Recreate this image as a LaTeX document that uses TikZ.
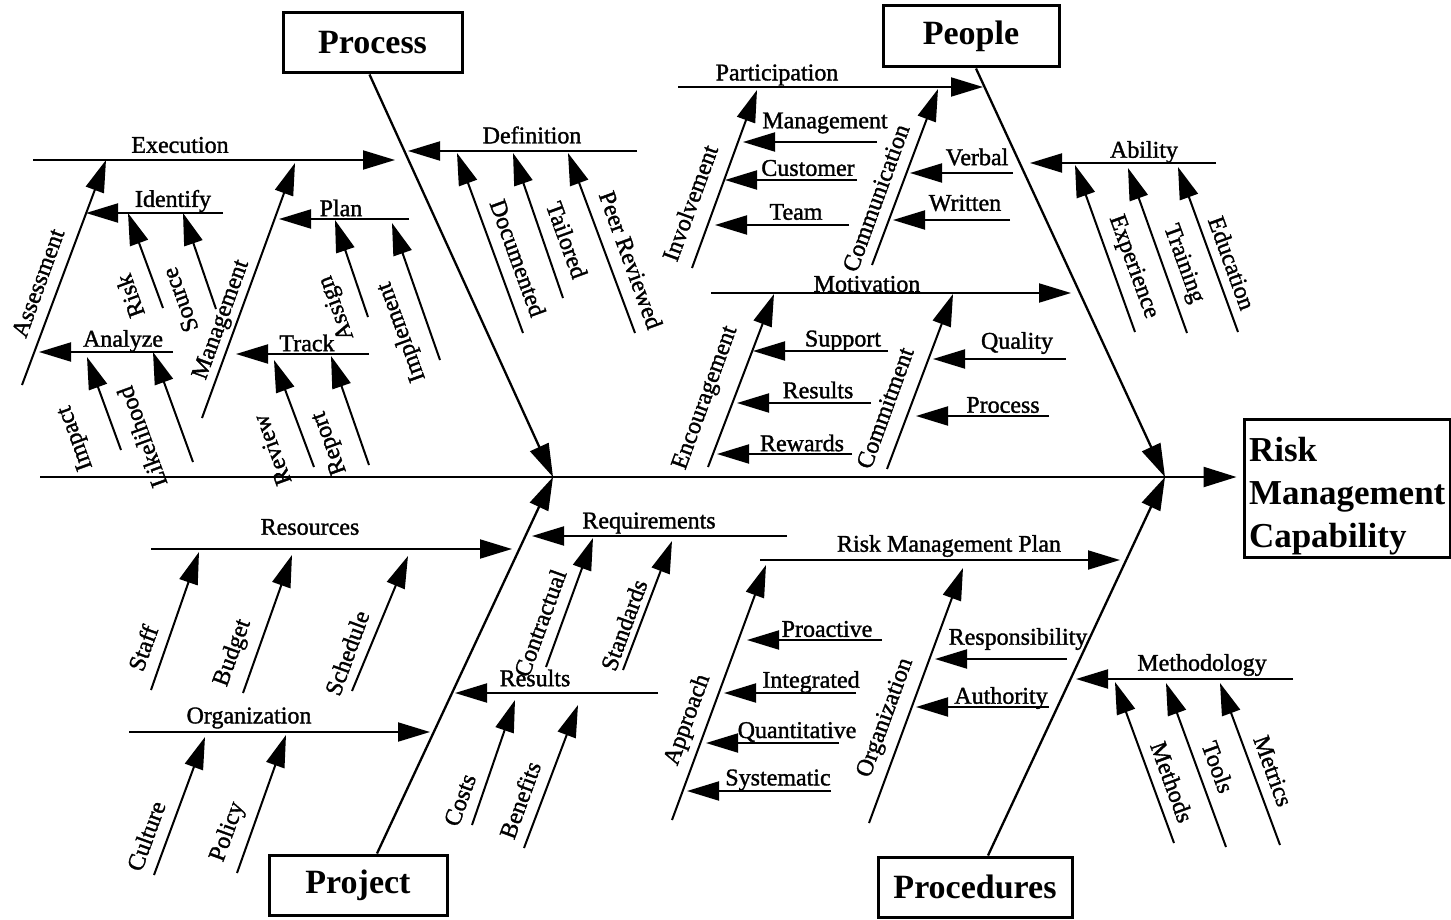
\documentclass[tikz,border=0pt]{standalone}
\usepackage{fontspec}
\setmainfont{Liberation Serif}
\newfontfamily\lblfont{Liberation Serif}[FakeBold=1.4]
\usetikzlibrary{arrows.meta}

% one arrow of the fishbone: name, tail, head
\newcommand\fbarrow[3]{%
  \coordinate (#1-t) at (#2);
  \coordinate (#1-h) at (#3);
  \draw[arr] (#1-t) -- (#1-h);}

\begin{document}
\begin{tikzpicture}[x=1pt,y=-1pt,
  arr/.style={line width=2pt,-{Triangle[length=32pt,width=19pt]}},
  bone/.style={line width=2.3pt,-{Triangle[length=33pt,width=20pt]}},
  lbl/.style={font=\lblfont\fontsize{24}{26}\selectfont,inner sep=0pt},
  title/.style={draw,line width=3pt,font=\bfseries\fontsize{34}{42}\selectfont,inner sep=0pt}]
\useasboundingbox (0,0) rectangle (1451,920);

% ---- effect and category boxes ----
\node[title,minimum width=179pt,minimum height=60pt] (process) at (372.5,43) {Process};
\node[title,minimum width=176pt,minimum height=61pt] (people) at (971,36.5) {People};
\node[title,minimum width=178pt,minimum height=60pt] (project) at (358,885) {Project};
\node[title,minimum width=194pt,minimum height=60pt] (procedures) at (975,887) {Procedures};
\node[title,minimum width=206pt,minimum height=138pt] (rmc) at (1347,488) {};
\node[text width=196pt,align=left,inner sep=0pt,
      font=\bfseries\fontsize{35}{43}\selectfont] (rmctext) at (1347,496) {Risk\\Management\\Capability};

% ---- spine and main bones ----
\coordinate (spineL) at (40,477);
\coordinate (procTip) at (553,477);
\coordinate (peopTip) at (1165,477);
\draw[bone] (spineL) -- ([xshift=-6pt]spineL -| rmc.west);
\draw[bone] ([xshift=-3pt]process.south) -- (procTip);
\draw[bone] ([xshift=5pt]people.south) -- (peopTip);
\draw[bone] ([xshift=19pt]project.north) -- (procTip);
\draw[bone] ([xshift=13pt]procedures.north) -- (peopTip);

% ---- Process ----
\fbarrow{exec}{33,160}{395,160}
\node[lbl] (exec-l) at (180,145) {Execution};
\fbarrow{defn}{637,151}{408,151}
\node[lbl] (defn-l) at (532,135) {Definition};
\fbarrow{ident}{223,213}{86,213}
\node[lbl] (ident-l) at (173,201) {Identify};
\fbarrow{anlz}{173,352}{39,352}
\node[lbl] (anlz-l) at (123,341) {Analyze};
\fbarrow{plan}{409,219}{279,219}
\node[lbl] (plan-l) at (341,208) {Plan};
\fbarrow{track}{369,354}{236,354}
\node[lbl] (track-l) at (307,343) {Track};

\fbarrow{assess}{22,385}{106,160}
\node[lbl,rotate=70] (assess-l) at (38,283) {Assessment};
\fbarrow{mgmt}{202,418}{295,163}
\node[lbl,rotate=70] (mgmt-l) at (222,320) {Management};
\fbarrow{risk}{163,308}{128,213}
\node[lbl,rotate=110] (risk-l) at (130,296) {Risk};
\fbarrow{source}{216,309}{183,213}
\node[lbl,rotate=110] (source-l) at (180,300) {Source};
\fbarrow{impact}{121,450}{87,357}
\node[lbl,rotate=110] (impact-l) at (76,438) {Impact};
\fbarrow{likeli}{193,462}{153,352}
\node[lbl,rotate=110] (likeli-l) at (142,437) {Likelihood};
\fbarrow{assign}{368,317}{335,220}
\node[lbl,rotate=110] (assign-l) at (337,308) {Assign};
\fbarrow{implem}{440,360}{392,223}
\node[lbl,rotate=110] (implem-l) at (402,332) {Implement};
\fbarrow{review}{314,467}{274,360}
\node[lbl,rotate=110] (review-l) at (272,450) {Review};
\fbarrow{report}{369,465}{331,356}
\node[lbl,rotate=110] (report-l) at (330,443) {Report};
\fbarrow{docum}{523,333}{457,153}
\node[lbl,rotate=-70] (docum-l) at (518,258) {Documented};
\fbarrow{tailor}{563,298}{513,153}
\node[lbl,rotate=-70] (tailor-l) at (567,240) {Tailored};
\fbarrow{peer}{635,333}{568,153}
\node[lbl,rotate=-70] (peer-l) at (631,260) {Peer Reviewed};

% ---- People ----
\fbarrow{partic}{678,87}{983,87}
\node[lbl] (partic-l) at (777,75) {Participation};
\fbarrow{motiv}{711,293}{1071,293}
\node[lbl] (motiv-l) at (867,284) {Motivation};
\fbarrow{pmgmt}{877,142}{743,142}
\node[lbl] (pmgmt-l) at (825,123) {Management};
\fbarrow{cust}{857,180}{725,180}
\node[lbl] (cust-l) at (808,168) {Customer};
\fbarrow{team}{849,225}{715,225}
\node[lbl] (team-l) at (796,212) {Team};
\fbarrow{verbal}{1013,173}{910,173}
\node[lbl] (verbal-l) at (977,157) {Verbal};
\fbarrow{written}{1010,220}{893,220}
\node[lbl] (written-l) at (965,203) {Written};
\fbarrow{support}{888,351}{753,351}
\node[lbl] (support-l) at (843,341) {Support};
\fbarrow{presult}{871,403}{737,403}
\node[lbl] (presult-l) at (818,390) {Results};
\fbarrow{reward}{852,454}{717,454}
\node[lbl] (reward-l) at (802,443) {Rewards};
\fbarrow{quality}{1066,359}{933,359}
\node[lbl] (quality-l) at (1017,343) {Quality};
\fbarrow{pproc}{1049,416}{916,416}
\node[lbl] (pproc-l) at (1003,405) {Process};
\fbarrow{ability}{1216,163}{1030,163}
\node[lbl] (ability-l) at (1144,152) {Ability};

\fbarrow{involve}{692,268}{757,90}
\node[lbl,rotate=70] (involve-l) at (690,203) {Involvement};
\fbarrow{commun}{872,265}{938,89}
\node[lbl,rotate=70] (commun-l) at (876,198) {Communication};
\fbarrow{encour}{708,467}{774,294}
\node[lbl,rotate=70] (encour-l) at (706,398) {Encouragement};
\fbarrow{commit}{887,469}{953,294}
\node[lbl,rotate=70] (commit-l) at (885,408) {Commitment};
\fbarrow{exper}{1135,332}{1075,165}
\node[lbl,rotate=-70] (exper-l) at (1133,267) {Experience};
\fbarrow{train}{1187,333}{1128,168}
\node[lbl,rotate=-70] (train-l) at (1183,264) {Training};
\fbarrow{educ}{1238,332}{1178,167}
\node[lbl,rotate=-70] (educ-l) at (1232,263) {Education};

% ---- Project ----
\fbarrow{resour}{151,549}{512,549}
\node[lbl] (resour-l) at (310,527) {Resources};
\fbarrow{orgn}{129,732}{430,732}
\node[lbl] (orgn-l) at (249,718) {Organization};
\fbarrow{requir}{787,536}{532,536}
\node[lbl] (requir-l) at (649,523) {Requirements};
\fbarrow{result}{658,693}{455,693}
\node[lbl] (result-l) at (535,678) {Results};

\fbarrow{staff}{151,690}{199,552}
\node[lbl,rotate=70] (staff-l) at (143,648) {Staff};
\fbarrow{budget}{243,693}{292,555}
\node[lbl,rotate=70] (budget-l) at (233,653) {Budget};
\fbarrow{sched}{352,691}{408,556}
\node[lbl,rotate=70] (sched-l) at (347,653) {Schedule};
\fbarrow{cult}{154,875}{205,737}
\node[lbl,rotate=70] (cult-l) at (146,836) {Culture};
\fbarrow{policy}{237,873}{286,735}
\node[lbl,rotate=70] (policy-l) at (228,832) {Policy};
\fbarrow{contr}{546,667}{593,538}
\node[lbl,rotate=70] (contr-l) at (540,623) {Contractual};
\fbarrow{stand}{623,670}{672,541}
\node[lbl,rotate=70] (stand-l) at (624,625) {Standards};
\fbarrow{costs}{472,825}{515,700}
\node[lbl,rotate=70] (costs-l) at (460,800) {Costs};
\fbarrow{benef}{524,848}{578,705}
\node[lbl,rotate=70] (benef-l) at (520,800) {Benefits};

% ---- Procedures ----
\fbarrow{rmp}{760,560}{1120,560}
\node[lbl] (rmp-l) at (949,546) {Risk Management Plan};
\fbarrow{method}{1293,679}{1076,679}
\node[lbl] (method-l) at (1202,665) {Methodology};
\fbarrow{proact}{882,640}{747,640}
\node[lbl] (proact-l) at (827,629) {Proactive};
\fbarrow{integ}{856,693}{724,693}
\node[lbl] (integ-l) at (811,682) {Integrated};
\fbarrow{quant}{839,743}{706,743}
\node[lbl] (quant-l) at (797,732) {Quantitative};
\fbarrow{syst}{831,791}{687,791}
\node[lbl] (syst-l) at (778,780) {Systematic};
\fbarrow{respon}{1067,659}{935,659}
\node[lbl] (respon-l) at (1018,639) {Responsibility};
\fbarrow{auth}{1049,707}{916,707}
\node[lbl] (auth-l) at (1001,698) {Authority};

\fbarrow{appr}{672,820}{766,565}
\node[lbl,rotate=70] (appr-l) at (688,720) {Approach};
\fbarrow{porg}{869,823}{963,568}
\node[lbl,rotate=70] (porg-l) at (886,718) {Organization};
\fbarrow{methods}{1174,843}{1115,682}
\node[lbl,rotate=-70] (methods-l) at (1172,782) {Methods};
\fbarrow{tools}{1226,847}{1166,683}
\node[lbl,rotate=-70] (tools-l) at (1218,767) {Tools};
\fbarrow{metric}{1280,845}{1220,683}
\node[lbl,rotate=-70] (metric-l) at (1273,771) {Metrics};
\end{tikzpicture}
\end{document}
